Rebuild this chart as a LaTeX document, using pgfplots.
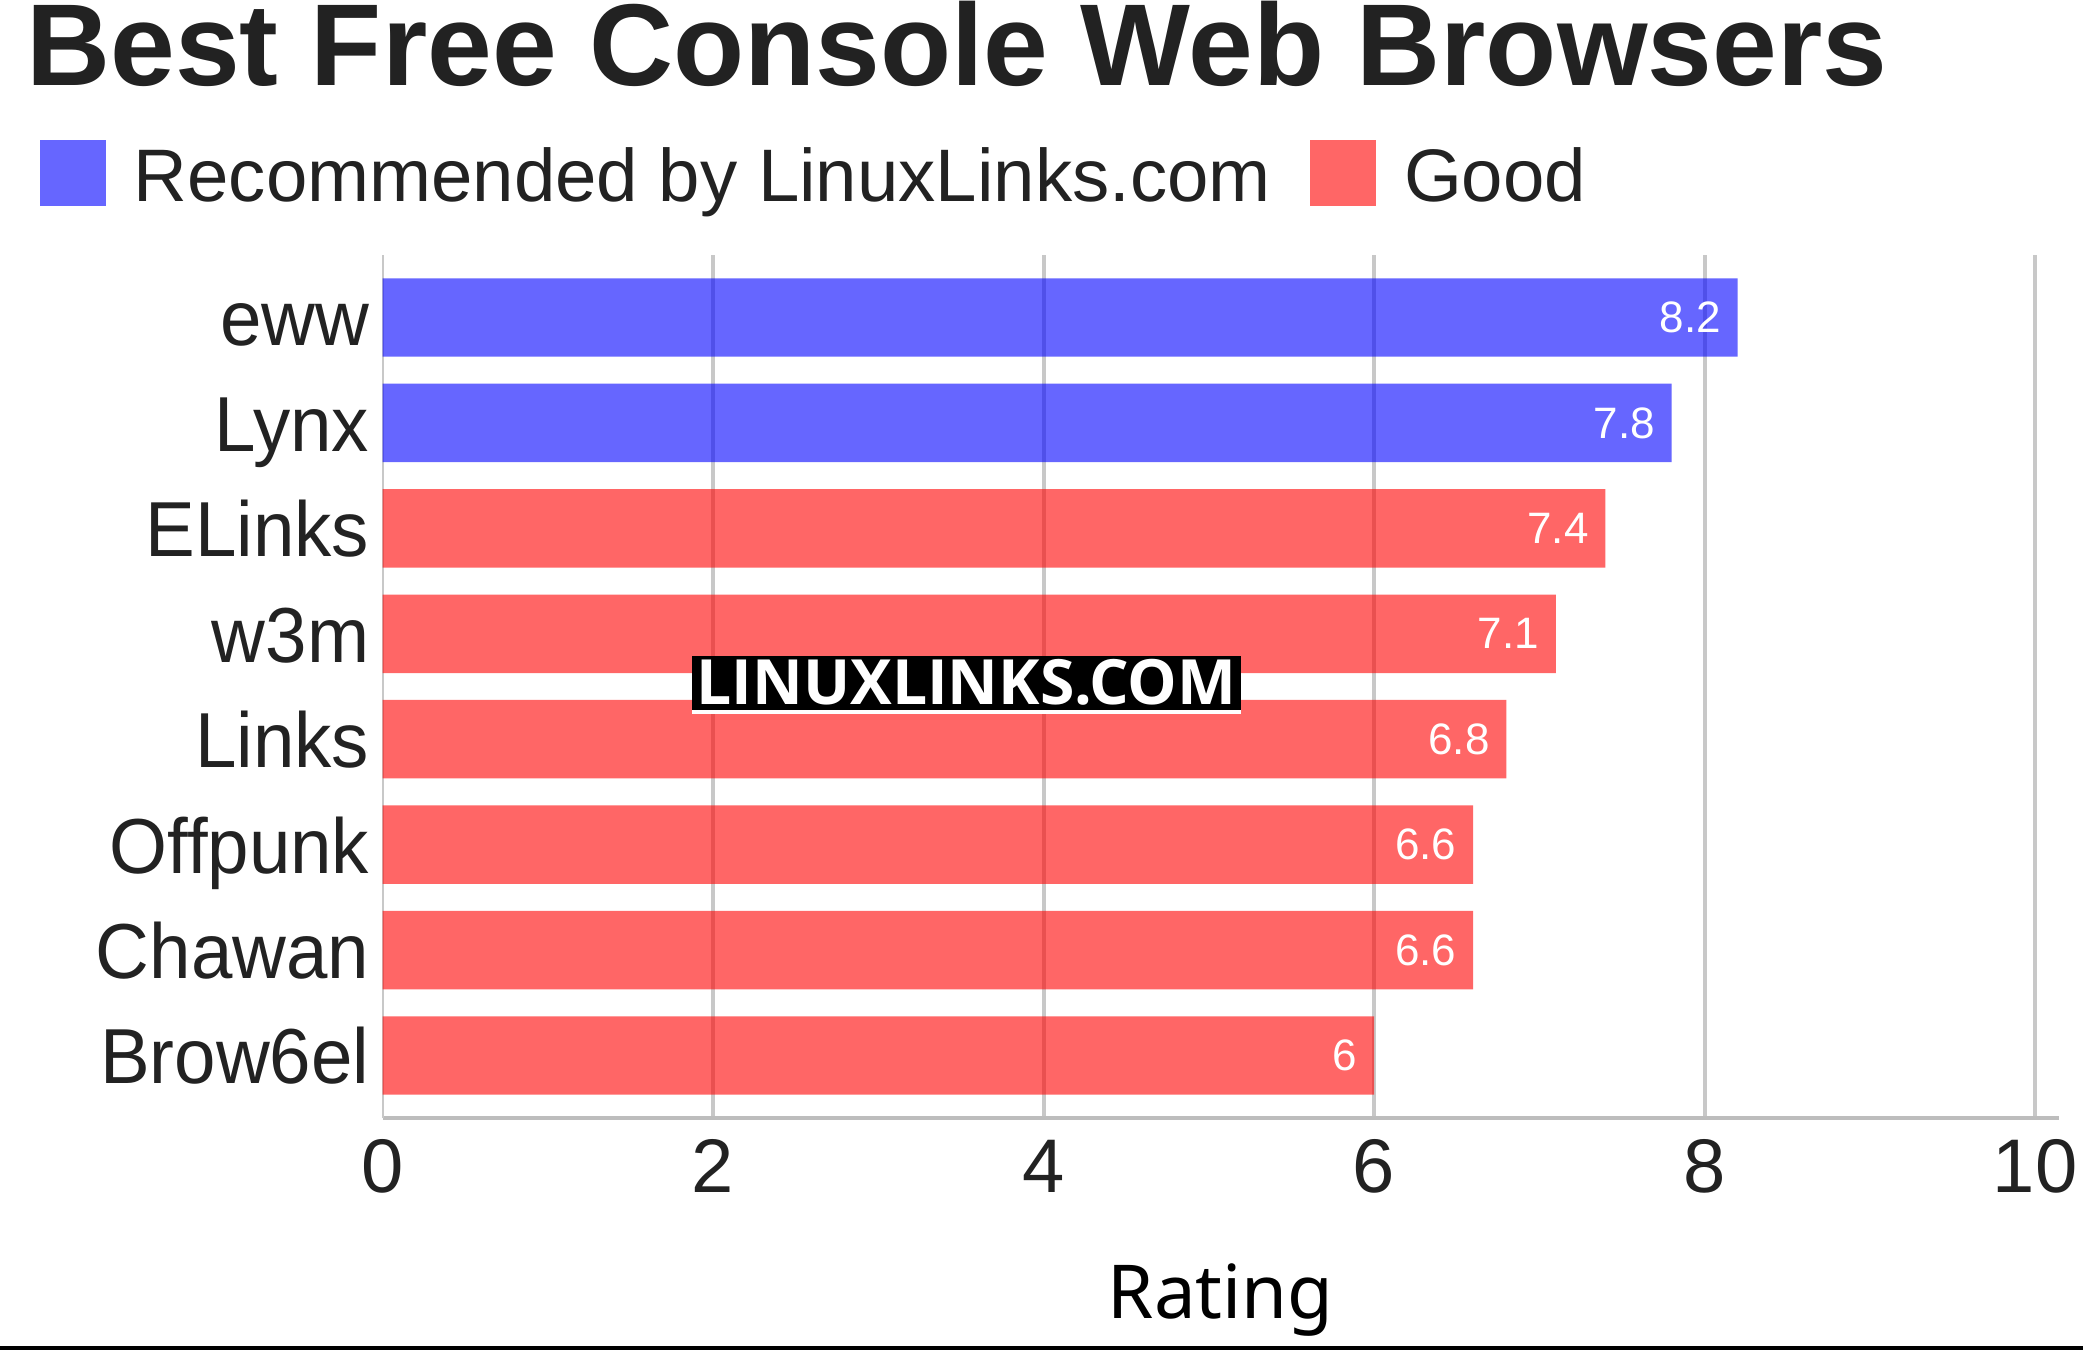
\documentclass[border=0pt]{standalone}
\usepackage{pgfplots}
\pgfplotsset{compat=1.18}
\usepackage{fontspec}
\setmainfont{Liberation Sans}
\newfontfamily\notosans{Noto Sans}
\newfontfamily\opensans{Open Sans}
\definecolor{textgray}{HTML}{222222}
\definecolor{gridgray}{HTML}{C8C8C8}
\definecolor{axisgray}{HTML}{BDBDBD}

\begin{document}
\begin{tikzpicture}
\fill[white] (0,0) rectangle (520.75pt,337.5pt);
\path[use as bounding box] (0,0) rectangle (520.75pt,337.5pt);

\node[anchor=base west, inner sep=0pt, text=textgray,
      font=\fontsize{29.1}{30}\selectfont\bfseries]
  at (6.4pt,316pt) {Best Free Console Web Browsers};

\begin{axis}[
  at={(95.65pt,58pt)}, anchor=south west,
  scale only axis, width=419.1pt, height=215.75pt,
  xbar, bar shift=0pt, bar width=0.744,
  xmin=0, xmax=10.145, ymin=-0.593, ymax=7.593,
  axis x line*=bottom, axis y line*=left,
  x axis line style={draw=axisgray, line width=1.2pt, -},
  y axis line style={draw=gridgray, line width=0.5pt, -},
  xtick={2,4,...,10}, extra x ticks={0}, extra x tick style={grid=none},
  ytick={0,...,7},
  yticklabels={Brow6el,Chawan,Offpunk,Links,w3m,ELinks,Lynx,eww},
  major tick length=0pt,
  xmajorgrids, major grid style={draw=gridgray, line width=1pt},
  /pgf/number format/assume math mode=true,
  xticklabel style={font=\fontsize{19}{20}\selectfont, text=textgray,
    anchor=north, inner sep=0pt, yshift=-5.25pt},
  yticklabel style={font=\fontsize{19.5}{20}\selectfont, text=textgray,
    anchor=base east, inner sep=0pt, xshift=-3.15pt, yshift=-7.1pt, xscale=0.955},
  xlabel={Rating},
  xlabel style={at={(axis description cs:0.5,0)}, anchor=base, yshift=-50pt,
    inner sep=0pt, font=\notosans\fontsize{18.6}{20}\selectfont, text=black},
  point meta=x,
  nodes near coords,
  every node near coord/.append style={anchor=east, inner sep=0pt, xshift=-4pt,
    text=white, text opacity=1, font=\fontsize{11}{12}\selectfont},
  legend columns=2,
  legend cell align=left,
  legend style={at={(axis description cs:-0.22823,1.0941)}, anchor=west,
    draw=none, fill=none, inner sep=0pt, column sep=0pt,
    nodes={inner sep=0pt, anchor=base west, text=textgray,
      font=\fontsize{18.6}{20}\selectfont}},
  legend image code/.code={
    \path (-9.75pt,0pt);
    \fill[#1] (0pt,-1.18pt) rectangle (16.5pt,15.25pt);
    \path (23.5pt,0pt);
  },
]
\addplot[fill=blue, fill opacity=0.6, draw=none]
  coordinates {(8.2,7) (7.8,6)};
\addlegendentry{Recommended by LinuxLinks.com}
\addplot[fill=red, fill opacity=0.6, draw=none]
  coordinates {(7.4,5) (7.1,4) (6.8,3) (6.6,2) (6.6,1) (6.0,0)};
\addlegendentry{Good}
\end{axis}

\fill[black] (173pt,160pt) rectangle (310.25pt,173.5pt);
\fill[white] (173pt,159pt) rectangle (310.25pt,160pt);
\node[anchor=base, inner sep=0pt, text=white,
      font=\opensans\bfseries\fontsize{15.6}{16}\selectfont]
  at (241.6pt,161.5pt) {LINUXLINKS.COM};

\fill[black] (0,0) rectangle (520.75pt,1pt);
\end{tikzpicture}
\end{document}
